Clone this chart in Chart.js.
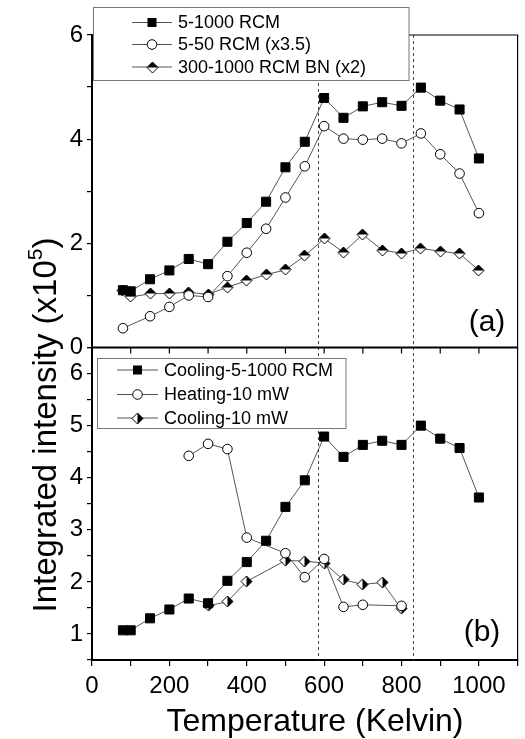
<!DOCTYPE html>
<html>
<head>
<meta charset="utf-8">
<script src="https://cdn.jsdelivr.net/npm/chart.js@4/dist/chart.umd.min.js"></script>
<style>
html,body{margin:0;padding:0;background:#fff;}
#wrap{position:relative;width:525px;height:739px;}
canvas{display:block;}
</style>
</head>
<body>
<div id="wrap"><canvas id="c" width="525" height="739"></canvas></div>
<script>
// ---------- DATA ----------
// Panel (a)
const tempsRCM   = [80,100,150,200,250,300,350,400,450,500,550,600,650,700,750,800,850,900,950,1000];
const rcm5to1000 = [1.10,1.08,1.31,1.48,1.70,1.60,2.03,2.39,2.80,3.46,3.95,4.79,4.41,4.63,4.71,4.64,4.99,4.74,4.57,3.63];
const tempsRCM50 = [80,150,200,250,300,350,400,450,500,550,600,650,700,750,800,850,900,950,1000];
const rcm5to50x35 = [0.37,0.60,0.78,1.00,0.97,1.37,1.82,2.28,2.88,3.48,4.25,4.01,3.99,4.01,3.92,4.11,3.71,3.34,2.58];
const tempsBN    = [80,100,150,200,250,300,350,400,450,500,550,600,650,700,750,800,850,900,950,1000];
const rcmBNx2    = [1.10,0.97,1.03,1.04,1.06,1.02,1.16,1.28,1.40,1.49,1.76,2.09,1.83,2.17,1.87,1.81,1.90,1.85,1.80,1.48];
// Panel (b)
const tempsCoolRCM = [80,100,150,200,250,300,350,400,450,500,550,600,650,700,750,800,850,900,950,1000];
const coolingRCM   = [1.07,1.07,1.30,1.47,1.68,1.59,2.02,2.38,2.79,3.44,3.95,4.79,4.40,4.63,4.71,4.63,5.00,4.75,4.57,3.62];
const tempsHeat10  = [250,300,350,400,500,550,600,650,700,800];
const heating10    = [4.42,4.65,4.55,2.85,2.55,2.09,2.44,1.52,1.56,1.54];
const tempsCool10  = [300,350,400,500,550,600,650,700,750,800];
const cooling10    = [1.54,1.62,2.01,2.41,2.40,2.36,2.04,1.95,1.99,1.48];
// Reference (dashed) temperatures
const transitionTemps = [583, 830];
// Tick labels
const xTickLabels = [0,200,400,600,800,1000];
const yTopTickLabels = [0,2,4,6];
const yBotTickLabels = [1,2,3,4,5,6];
// Labels
const topLabels = ['5-1000 RCM','5-50 RCM (x3.5)','300-1000 RCM BN (x2)'];
const botLabels = ['Cooling-5-1000 RCM','Heating-10 mW','Cooling-10 mW'];
const xTitle = 'Temperature (Kelvin)';
const yTitleMain = 'Integrated intensity (x10';
const yTitleSup = '5';
const yTitleEnd = ')';

// ---------- styling helpers ----------
const FONT = '"Liberation Sans", Arial, Helvetica, sans-serif';
function pts(xs, ys){ return xs.map((x,i)=>({x:x, y:ys[i]})); }

function makeDiamond(mode){
  const S = 13, c = 6.5, r = 5.5;
  const cv = document.createElement('canvas'); cv.width = S; cv.height = S;
  const g = cv.getContext('2d');
  const path = () => { g.beginPath(); g.moveTo(c, c-r); g.lineTo(c+r, c); g.lineTo(c, c+r); g.lineTo(c-r, c); g.closePath(); };
  path(); g.fillStyle = '#fff'; g.fill();
  g.beginPath();
  if (mode === 'top'){ g.moveTo(c, c-r); g.lineTo(c+r, c); g.lineTo(c-r, c); }
  else { g.moveTo(c, c-r); g.lineTo(c+r, c); g.lineTo(c, c+r); }
  g.closePath(); g.fillStyle = '#000'; g.fill();
  path(); g.lineWidth = 1; g.strokeStyle = '#000'; g.stroke();
  return cv;
}
const diamondTop = makeDiamond('top');
const diamondRight = makeDiamond('right');

const LINE = '#555';
function ds(label, data, yAxisID, style){
  const base = {
    label, data, yAxisID, xAxisID:'x', showLine:true, tension:0,
    borderColor: LINE, borderWidth: 1, pointBorderColor:'#000', pointBorderWidth:1
  };
  if (style === 'square') Object.assign(base, {pointStyle:'rect', pointRadius:6.4, pointBackgroundColor:'#000'});
  if (style === 'circle') Object.assign(base, {pointStyle:'circle', pointRadius:4.8, pointBackgroundColor:'#fff'});
  if (style === 'dtop') Object.assign(base, {pointStyle:diamondTop, pointRadius:5.6});
  if (style === 'dright') Object.assign(base, {pointStyle:diamondRight, pointRadius:5.6});
  return base;
}

function drawMarker(ctx, style, x, y){
  ctx.save();
  if (style === 'square'){ ctx.fillStyle='#000'; ctx.fillRect(x-4.5, y-4.5, 9, 9); }
  else if (style === 'circle'){ ctx.beginPath(); ctx.arc(x, y, 4.8, 0, Math.PI*2); ctx.fillStyle='#fff'; ctx.fill(); ctx.lineWidth=1; ctx.strokeStyle='#000'; ctx.stroke(); }
  else if (style === 'dtop'){ ctx.drawImage(diamondTop, Math.round(x-6.5), Math.round(y-6.5)); }
  else if (style === 'dright'){ ctx.drawImage(diamondRight, Math.round(x-6.5), Math.round(y-6.5)); }
  ctx.restore();
}

function drawLegend(ctx, box, rows, styles, labels){
  ctx.save();
  ctx.fillStyle = '#fff';
  ctx.fillRect(box.x, box.y, box.w, box.h);
  ctx.strokeStyle = '#777'; ctx.lineWidth = 1;
  ctx.strokeRect(box.x, box.y, box.w, box.h);
  ctx.font = '18px ' + FONT; ctx.fillStyle = '#000'; ctx.textBaseline = 'middle'; ctx.textAlign = 'left';
  rows.forEach((ry, i) => {
    ctx.beginPath(); ctx.moveTo(box.l1, ry); ctx.lineTo(box.l2, ry);
    ctx.strokeStyle = LINE; ctx.lineWidth = 1; ctx.stroke();
    drawMarker(ctx, styles[i], (box.l1+box.l2)/2, ry);
    ctx.fillStyle = '#000';
    ctx.fillText(labels[i], box.tx, ry + 1);
  });
  ctx.restore();
}

const decor = {
  id: 'decor',
  beforeDatasetsDraw(chart){
    const {ctx, chartArea} = chart; const x = chart.scales.x;
    ctx.save();
    ctx.setLineDash([3,3]); ctx.strokeStyle = '#444'; ctx.lineWidth = 1;
    transitionTemps.forEach(t => {
      const px = Math.round(x.getPixelForValue(t)) + 0.5;
      ctx.beginPath(); ctx.moveTo(px, chartArea.top); ctx.lineTo(px, chartArea.bottom); ctx.stroke();
    });
    ctx.restore();
    ctx.imageSmoothingEnabled = false;
  },
  afterDatasetsDraw(chart){
    const {ctx, chartArea} = chart; const x = chart.scales.x; const yT = chart.scales.yTop;
    ctx.imageSmoothingEnabled = true;
    ctx.save();
    ctx.strokeStyle = '#000';
    // top & right frame
    ctx.lineWidth = 1.2;
    ctx.beginPath(); ctx.moveTo(chartArea.left, chartArea.top); ctx.lineTo(chartArea.right, chartArea.top);
    ctx.lineTo(chartArea.right, chartArea.bottom); ctx.stroke();
    // separator (x-axis of panel a)
    const sep = yT.bottom;
    ctx.lineWidth = 2;
    ctx.beginPath(); ctx.moveTo(chartArea.left, sep); ctx.lineTo(chartArea.right, sep); ctx.stroke();
    ctx.lineWidth = 1.2;
    for (let t = 100; t < 1100; t += 100){
      const px = x.getPixelForValue(t);
      ctx.beginPath(); ctx.moveTo(px, sep); ctx.lineTo(px, sep + 6); ctx.stroke();
    }
    ctx.restore();
  },
  afterDraw(chart){
    const {ctx} = chart;
    drawLegend(ctx, {x:93.5, y:7.5, w:315.5, h:73, l1:132, l2:172, tx:178}, [22.5, 44.5, 67], ['square','circle','dtop'], topLabels);
    drawLegend(ctx, {x:97.5, y:358.5, w:248.5, h:70, l1:117, l2:158, tx:164}, [370, 394.5, 418], ['square','circle','dright'], botLabels);
    ctx.save();
    ctx.fillStyle = '#000';
    ctx.font = '30px ' + FONT; ctx.textAlign = 'center'; ctx.textBaseline = 'middle';
    ctx.fillText('(a)', 487, 323);
    ctx.fillText('(b)', 482, 633);
    // x title
    ctx.font = '32px ' + FONT; ctx.textBaseline = 'alphabetic';
    ctx.fillText(xTitle, 315, 731);
    // y title (rotated)
    ctx.translate(56, 425); ctx.rotate(-Math.PI/2);
    ctx.textAlign = 'left';
    ctx.font = '33px ' + FONT; const w1 = ctx.measureText(yTitleMain).width; const w3 = ctx.measureText(yTitleEnd).width;
    ctx.font = '21px ' + FONT; const w2 = ctx.measureText(yTitleSup).width;
    const total = w1 + w2 + w3; let sx = -total/2;
    ctx.font = '33px ' + FONT; ctx.fillText(yTitleMain, sx, 0); sx += w1;
    ctx.font = '21px ' + FONT; ctx.fillText(yTitleSup, sx, -14); sx += w2;
    ctx.font = '33px ' + FONT; ctx.fillText(yTitleEnd, sx, 0);
    ctx.restore();
  }
};

const tickFont = {family: FONT, size: 24};
const chart = new Chart(document.getElementById('c'), {
  type: 'scatter',
  data: {
    datasets: [
      ds(topLabels[0], pts(tempsRCM, rcm5to1000), 'yTop', 'square'),
      ds(topLabels[1], pts(tempsRCM50, rcm5to50x35), 'yTop', 'circle'),
      ds(topLabels[2], pts(tempsBN, rcmBNx2), 'yTop', 'dtop'),
      ds(botLabels[0], pts(tempsCoolRCM, coolingRCM), 'yBot', 'square'),
      ds(botLabels[1], pts(tempsHeat10, heating10), 'yBot', 'circle'),
      ds(botLabels[2], pts(tempsCool10, cooling10), 'yBot', 'dright')
    ]
  },
  options: {
    responsive: false, animation: false, devicePixelRatio: 1, events: [],
    layout: {padding: {top: 35, right: 4, left: 0, bottom: 0}},
    plugins: {legend: {display:false}, tooltip: {enabled:false}},
    scales: {
      x: {
        type:'linear', position:'bottom', min:0, max:1100,
        afterFit(s){ s.height = 79; },
        ticks: {stepSize:100, autoSkip:false, maxRotation:0, color:'#000', font:tickFont, padding:6,
                callback: v => xTickLabels.includes(v) ? String(v) : ''},
        grid: {drawOnChartArea:false, drawTicks:true, tickLength:6, color:'#000', lineWidth:1.2},
        border: {display:true, color:'#000', width:2}
      },
      yBot: {
        type:'linear', position:'left', stack:'panels', stackWeight:1, min:0.5, max:6.5,
        afterFit(s){ s.width = 92; },
        ticks: {stepSize:0.5, autoSkip:false, color:'#000', font:tickFont, padding:4,
                callback: v => yBotTickLabels.includes(v) ? String(v) : ''},
        grid: {drawOnChartArea:false, drawTicks:true, tickLength:5, color:'#000', lineWidth:1.2},
        border: {display:true, color:'#000', width:2}
      },
      yTop: {
        type:'linear', position:'left', stack:'panels', stackWeight:1, min:0, max:6,
        afterFit(s){ s.width = 92; },
        ticks: {stepSize:1, autoSkip:false, color:'#000', font:tickFont, padding:4,
                callback: v => yTopTickLabels.includes(v) ? String(v) : ''},
        grid: {drawOnChartArea:false, drawTicks:true, tickLength:5, color:'#000', lineWidth:1.2},
        border: {display:true, color:'#000', width:2}
      }
    }
  },
  plugins: [decor]
});
</script>
</body>
</html>
